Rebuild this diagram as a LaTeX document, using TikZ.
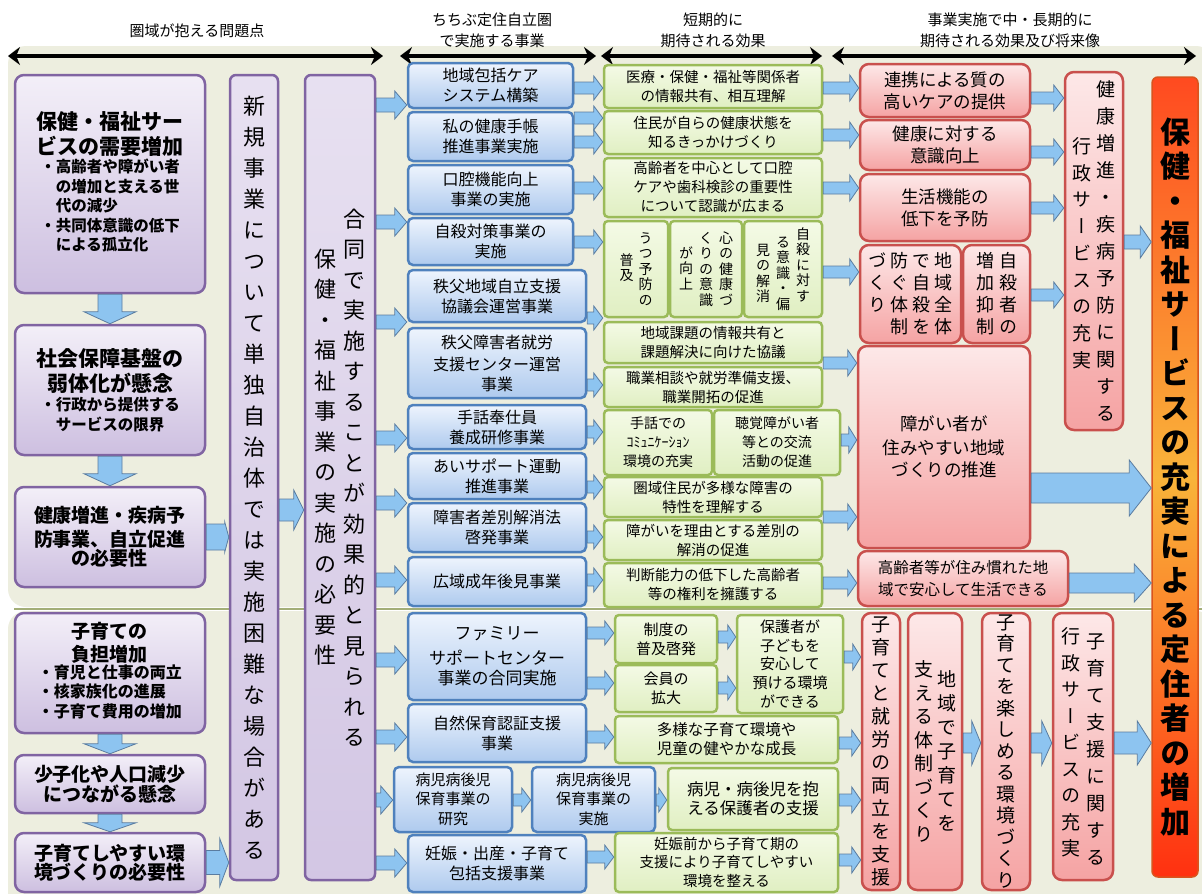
\documentclass[tikz,border=0pt]{standalone}
\usepackage{fontspec}
\setmainfont{Noto Sans CJK JP}
\newfontfamily\jpv[RawFeature=+vert]{Noto Sans CJK JP}
\usetikzlibrary{calc,arrows.meta}

\definecolor{panel}{HTML}{EDEEDF}
\definecolor{sepline}{HTML}{A3AE78}
\definecolor{purD}{HTML}{8064A2}
\definecolor{purT}{HTML}{F3EFF8}
\definecolor{purB}{HTML}{CDBFE0}
\definecolor{bluD}{HTML}{4F81BD}
\definecolor{bluT}{HTML}{EEF4FD}
\definecolor{bluB}{HTML}{AECAEE}
\definecolor{grnD}{HTML}{9BBB59}
\definecolor{grnT}{HTML}{F4FAE6}
\definecolor{grnB}{HTML}{E0EFC2}
\definecolor{redD}{HTML}{C9504D}
\definecolor{redT}{HTML}{FDE8E8}
\definecolor{redB}{HTML}{F5A3A3}
\definecolor{arrF}{HTML}{8DC4F0}
\definecolor{arrD}{HTML}{5A7CA0}
\definecolor{finT}{HTML}{FF4A20}
\definecolor{finM}{HTML}{F9B43A}
\definecolor{finB}{HTML}{FF3010}
\definecolor{finD}{HTML}{D9541E}

\def\vtloop#1{\ifx\relax#1\else\hbox to 1em{\hss#1\hss}\expandafter\vtloop\fi}
\newcommand\vcol[2]{\vtop{\jpv\baselineskip=#1\lineskiplimit=-100pt\lineskip=0pt\vtloop#2\relax}}
\newcommand\fs[2]{\fontsize{#1}{#2}\selectfont}

\newcommand\fatR[5]{\draw[fatarr] let \p1=(#1),\p2=(#2) in (\x1,\y1+#3) -- (\x2-#5,\y1+#3) -- (\x2-#5,\y1+#4) -- (\x2,\y1) -- (\x2-#5,\y1-#4) -- (\x2-#5,\y1-#3) -- (\x1,\y1-#3) -- cycle;}
\newcommand\fatD[5]{\draw[fatarr] let \p1=(#1),\p2=(#2) in (\x1-#3,\y1) -- (\x1-#3,\y2+#5) -- (\x1-#4,\y2+#5) -- (\x1,\y2) -- (\x1+#4,\y2+#5) -- (\x1+#3,\y2+#5) -- (\x1+#3,\y1) -- cycle;}
\newcommand\hA[6]{\coordinate (hy) at (0,#3); \fatR{#1.east |- hy}{#2.west |- hy}{#4}{#5}{#6}}
\newcommand\bx[7]{\node[#1,minimum width={(#5-#3)*1pt},minimum height={(#6-#4)*1pt},text width={(#5-#3-6)*1pt}] (#2) at ({(#3+#5)/2},{(#4+#6)/2}) {#7};}

\tikzset{
 bxbase/.style={align=center,inner sep=0pt,line width=2.5pt,text=black},
 pbox/.style={bxbase,rounded corners=9pt,draw=purD,top color=purT,bottom color=purB},
 tbox/.style={bxbase,rounded corners=6pt,draw=purD,top color=purT!70!purB,bottom color=purB!85!purT},
 bbox/.style={bxbase,rounded corners=5pt,draw=bluD,top color=bluT,bottom color=bluB,font=\fs{16}{20}},
 gbox/.style={bxbase,rounded corners=4pt,draw=grnD,top color=grnT,bottom color=grnB,font=\fs{14.5}{19}},
 rbox/.style={bxbase,rounded corners=9pt,draw=redD,top color=redT,bottom color=redB,font=\fs{17.5}{22}},
 fbox/.style={bxbase,rounded corners=6pt,draw=finD,line width=1.5pt,top color=finT,bottom color=finB,middle color=finM},
 fatarr/.style={fill=arrF,draw=arrD,line width=0.8pt},
 hdr/.style={line width=3.5pt,{Stealth[length=12pt,width=18pt]}-{Stealth[length=12pt,width=18pt]}},
 hdrtext/.style={align=center,font=\fs{15}{21}},
}

\begin{document}
\begin{tikzpicture}[x=1pt,y=-1pt]
\useasboundingbox (0,0) rectangle (1202,894);
\fill[white] (0,0) rectangle (1202,894);
\fill[panel,rounded corners=18pt] (8,46) rectangle (1214,607);
\fill[panel,rounded corners=18pt] (8,611) rectangle (1214,920);
\draw[sepline,line width=1.5pt] (14,609) -- (1202,609);

% headers
\node[hdrtext] (hd1) at (197,31) {圏域が抱える問題点};
\node[hdrtext] (hd2) at (492,30) {ちちぶ定住自立圏\\で実施する事業};
\node[hdrtext] (hd3) at (713,30) {短期的に\\期待される効果};
\node[hdrtext] (hd4) at (1010,30) {事業実施で中・長期的に\\期待される効果及び将来像};
\coordinate (a1l) at (8,56); \coordinate (a1r) at (383,56);
\coordinate (a2l) at (400,56); \coordinate (a2r) at (596,56);
\coordinate (a3l) at (601,56); \coordinate (a3r) at (822,56);
\coordinate (a4l) at (832,56); \coordinate (a4r) at (1196,56);
\draw[hdr] (a1l) -- (a1r);
\draw[hdr] (a2l) -- (a2r);
\draw[hdr] (a3l) -- (a3r);
\draw[hdr] (a4l) -- (a4r);

% left column
\bx{pbox}{p1}{15}{75}{205}{293}{{\fs{21}{25}\bfseries 保健・福祉サー\\ビスの需要増加\par}\vspace{2pt}{\fs{15.5}{19.5}\bfseries\begin{tabular}{@{}l@{}}・高齢者や障がい者\\\hphantom{・}の増加と支える世\\\hphantom{・}代の減少\\・共同体意識の低下\\\hphantom{・}による孤立化\end{tabular}\par}}
\bx{pbox}{p2}{15}{325}{205}{455}{{\fs{21}{25}\bfseries 社会保障基盤の\\弱体化が懸念\par}{\fs{15.5}{19.5}\bfseries ・行政から提供する\\サービスの限界\par}}
\bx{pbox}{p3}{15}{487}{205}{587}{\fs{19}{24}\bfseries 健康増進・疾病予\\防事業、自立促進\\の必要性}
\bx{pbox}{p4}{15}{613}{205}{733}{{\fs{19}{23}\bfseries 子育ての\\負担増加\par}{\fs{16}{19.5}\bfseries\begin{tabular}{@{}l@{}}・育児と仕事の両立\\・核家族化の進展\\・子育て費用の増加\end{tabular}\par}}
\bx{pbox}{p5}{15}{755}{205}{813}{\fs{19}{24}\bfseries 少子化や人口減少\\につながる懸念}
\bx{pbox}{p6}{15}{833}{205}{892}{\fs{19}{24}\bfseries 子育てしやすい環\\境づくりの必要性}

\bx{tbox}{t1}{230}{75}{278}{880}{\fs{22}{31}\vcol{31pt}{新規事業について単独自治体では実施困難な場合がある}}
\bx{tbox}{t2}{305}{75}{375}{880}{\fs{22}{30}\raisebox{-40pt}{\vcol{30.5pt}{保健・福祉事業の実施の必要性}}\hspace{7pt}\vcol{30.5pt}{合同で実施することが効果的と見られる}}

% blue column
\bx{bbox}{b1}{408}{63}{573}{108}{地域包括ケア\\システム構築}
\bx{bbox}{b2}{408}{112}{573}{161}{私の健康手帳\\推進事業実施}
\bx{bbox}{b3}{408}{165}{573}{214}{口腔機能向上\\事業の実施}
\bx{bbox}{b4}{408}{218}{573}{265}{自殺対策事業の\\実施}
\bx{bbox}{b5}{408}{270}{586}{322}{秩父地域自立支援\\協議会運営事業}
\bx{bbox}{b6}{408}{328}{586}{398}{\fs{16}{22}秩父障害者就労\\支援センター運営\\事業}
\bx{bbox}{b7}{408}{405}{586}{449}{手話奉仕員\\養成研修事業}
\bx{bbox}{b8}{408}{453}{586}{499}{あいサポート運動\\推進事業}
\bx{bbox}{b9}{408}{503}{586}{552}{障害者差別解消法\\啓発事業}
\bx{bbox}{b10}{408}{557}{586}{606}{広域成年後見事業}
\bx{bbox}{b11}{408}{613}{586}{700}{\fs{17}{25}ファミリー\\サポートセンター\\事業の合同実施}
\bx{bbox}{b12}{408}{704}{586}{762}{自然保育認証支援\\事業}
\bx{bbox}{b13}{394}{767}{512}{832}{\fs{15}{19}病児病後児\\保育事業の\\研究}
\bx{bbox}{b14}{532}{767}{655}{832}{\fs{15}{19}病児病後児\\保育事業の\\実施}
\bx{bbox}{b15}{408}{835}{586}{892}{妊娠・出産・子育て\\包括支援事業}

% green column
\bx{gbox}{g1}{604}{65}{822}{108}{医療・保健・福祉等関係者\\の情報共有、相互理解}
\bx{gbox}{g2}{604}{111}{822}{154}{住民が自らの健康状態を\\知るきっかけづくり}
\bx{gbox}{g3}{604}{158}{822}{217}{高齢者を中心として口腔\\ケアや歯科検診の重要性\\について認識が広まる}
\bx{gbox}{g4a}{604}{221}{668}{317}{\fs{14}{15.5}\raisebox{-22pt}{\vcol{15.5pt}{普及}}\hspace{5pt}\vcol{15.5pt}{うつ予防の}}
\bx{gbox}{g4b}{670}{221}{742}{317}{\fs{14}{15.5}\raisebox{-15pt}{\vcol{15.5pt}{が向上}}\hspace{6pt}\vcol{15.5pt}{くりの意識}\hspace{6pt}\vcol{15.5pt}{心の健康づ}}
\bx{gbox}{g4c}{744}{221}{822}{317}{\fs{14}{15.5}\raisebox{-16pt}{\vcol{15.5pt}{見の解消}}\hspace{6pt}\raisebox{-8pt}{\vcol{15.5pt}{る意識・偏}}\hspace{6pt}\vcol{15.5pt}{自殺に対す}}
\bx{gbox}{g5}{604}{322}{822}{363}{地域課題の情報共有と\\課題解決に向けた協議}
\bx{gbox}{g6}{604}{367}{822}{407}{職業相談や就労準備支援、\\職業開拓の促進}
\bx{gbox}{g7a}{604}{410}{712}{475}{\fs{14}{19}手話での\\ｺﾐｭﾆｹｰｼｮﾝ\\環境の充実}
\bx{gbox}{g7b}{714}{410}{840}{475}{\fs{14}{19}聴覚障がい者\\等との交流\\活動の促進}
\bx{gbox}{g8}{604}{477}{822}{517}{圏域住民が多様な障害の\\特性を理解する}
\bx{gbox}{g9}{604}{520}{822}{560}{障がいを理由とする差別の\\解消の促進}
\bx{gbox}{g10}{604}{563}{822}{607}{判断能力の低下した高齢者\\等の権利を擁護する}
\bx{gbox}{g11}{615}{615}{717}{663}{\fs{15}{20}制度の\\普及啓発}
\bx{gbox}{g12}{615}{665}{717}{712}{\fs{15}{20}会員の\\拡大}
\bx{gbox}{g13}{737}{615}{843}{713}{\fs{15}{18.5}保護者が\\子どもを\\安心して\\預ける環境\\ができる}
\bx{gbox}{g14}{615}{716}{838}{763}{\fs{15.5}{20}多様な子育て環境や\\児童の健やかな成長}
\bx{gbox}{g15}{668}{768}{838}{830}{\fs{16.5}{22}病児・病後児を抱\\える保護者の支援}
\bx{gbox}{g16}{615}{833}{838}{892}{\fs{14.5}{18.5}妊娠前から子育て期の\\支援により子育てしやすい\\環境を整える}

% red column
\bx{rbox}{r1}{860}{64}{1030}{117}{連携による質の\\高いケアの提供}
\bx{rbox}{r2}{860}{120}{1030}{170}{健康に対する\\意識向上}
\bx{rbox}{r3}{860}{174}{1030}{241}{生活機能の\\低下を予防}
\bx{rbox}{r4a}{860}{245}{961}{343}{\fs{18}{22}\vcol{22pt}{づくり}\hspace{4pt}\vcol{22pt}{防ぐ体制}\hspace{4pt}\vcol{22pt}{で自殺を}\hspace{4pt}\vcol{22pt}{地域全体}}
\bx{rbox}{r4b}{963}{245}{1030}{343}{\fs{18}{22}\vcol{22pt}{増加抑制}\hspace{5pt}\vcol{22pt}{自殺者の}}
\bx{rbox}{r5}{858}{346}{1030}{548}{\fs{17.5}{24}障がい者が\\住みやすい地域\\づくりの推進}
\bx{rbox}{r6}{858}{551}{1068}{606}{\fs{15.5}{20}高齢者等が住み慣れた地\\域で安心して生活できる}
\bx{rbox}{r7}{1065}{72}{1123}{430}{\fs{19}{27}\raisebox{-57pt}{\vcol{26.7pt}{行政サービスの充実}}\hspace{5pt}\vcol{27pt}{健康増進・疾病予防に関する}}
\bx{rbox}{rb1}{862}{613}{900}{890}{\fs{19}{23}\vcol{23pt}{子育てと就労の両立を支援}}
\bx{rbox}{rb2}{908}{613}{962}{890}{\fs{19}{24}\vcol{23.5pt}{支える体制づくり}\hspace{4pt}\raisebox{-10pt}{\vcol{24pt}{地域で子育てを}}}
\bx{rbox}{rb3}{982}{613}{1030}{890}{\fs{19}{21.5}\vcol{21.5pt}{子育てを楽しめる環境づくり}}
\bx{rbox}{rb4}{1053}{613}{1113}{880}{\fs{19}{27}\vcol{26.5pt}{行政サービスの充実}\hspace{6pt}\raisebox{-5pt}{\vcol{27pt}{子育て支援に関する}}}

\bx{fbox}{fin}{1152}{77}{1198}{877}{\fs{30}{34.5}\bfseries\vcol{34.5pt}{保健・福祉サービスの充実による定住者の増加}}

% arrows: left column
\fatD{p1.south}{p2.north}{12pt}{26pt}{12pt}
\fatD{p2.south}{p3.north}{12pt}{26pt}{12pt}
\fatD{p4.south}{p5.north}{12pt}{26pt}{10pt}
\fatD{p5.south}{p6.north}{12pt}{26pt}{9pt}
\fatR{p3.east}{t1.west |- p3.east}{13pt}{15pt}{4pt}
\fatR{p6.east}{t1.west |- p6.east}{12pt}{24pt}{9pt}
\coordinate (m1) at (0,510);
\fatR{t1.east |- m1}{t2.west |- m1}{11pt}{20pt}{10pt}

% tall box -> blue
\foreach \yy/\tn in {105/b1,222/b4,322/b5,438/b7,503/b9,580/b10,660/b11,737/b12,800/b13,863/b15}{\hA{t2}{\tn}{\yy}{7pt}{14pt}{12pt}}

% blue -> green
\hA{b1}{g1}{88}{6pt}{12pt}{9pt}
\hA{b2}{g2}{118}{6pt}{12pt}{9pt}
\hA{b2}{g2}{142}{6pt}{12pt}{9pt}
\hA{b3}{g3}{188}{6pt}{12pt}{9pt}
\hA{b4}{g4a}{242}{6pt}{12pt}{9pt}
\hA{b5}{g5}{318}{6pt}{12pt}{9pt}
\hA{b6}{g6}{385}{6pt}{12pt}{9pt}
\hA{b7}{g7a}{432}{6pt}{12pt}{9pt}
\hA{b8}{g8}{487}{6pt}{12pt}{9pt}
\hA{b9}{g9}{537}{6pt}{12pt}{9pt}
\hA{b10}{g10}{580}{6pt}{12pt}{9pt}
\hA{b11}{g11}{633}{6pt}{12pt}{9pt}
\hA{b11}{g12}{683}{6pt}{12pt}{9pt}
\hA{b12}{g14}{737}{6pt}{12pt}{9pt}
\hA{b13}{b14}{800}{6pt}{12pt}{9pt}
\hA{b14}{g15}{800}{6pt}{12pt}{8pt}
\hA{b15}{g16}{857}{6pt}{12pt}{9pt}
\hA{g11}{g13}{637}{6pt}{12pt}{8pt}
\hA{g12}{g13}{688}{6pt}{12pt}{8pt}

% green -> red
\hA{g1}{r1}{88}{6pt}{13pt}{9pt}
\hA{g2}{r2}{135}{6pt}{13pt}{9pt}
\hA{g3}{r3}{188}{6pt}{13pt}{9pt}
\hA{g4c}{r4a}{272}{6pt}{13pt}{9pt}
\hA{g5}{r5}{363}{6pt}{13pt}{9pt}
\hA{g7b}{r5}{440}{6pt}{13pt}{8pt}
\hA{g9}{r5}{517}{6pt}{13pt}{9pt}
\hA{g10}{r6}{583}{6pt}{13pt}{9pt}
\hA{g13}{rb1}{657}{6pt}{13pt}{8pt}
\hA{g14}{rb1}{743}{6pt}{13pt}{9pt}
\hA{g15}{rb1}{800}{6pt}{13pt}{9pt}
\hA{g16}{rb1}{860}{6pt}{13pt}{9pt}

% red -> outcomes
\hA{r1}{r7}{98}{6pt}{13pt}{10pt}
\hA{r2}{r7}{152}{6pt}{13pt}{10pt}
\hA{r3}{r7}{208}{6pt}{13pt}{10pt}
\hA{r4b}{r7}{295}{6pt}{13pt}{10pt}
\hA{r7}{fin}{242}{7pt}{16pt}{11pt}
\hA{r5}{fin}{488}{15pt}{28pt}{22pt}
\hA{r6}{fin}{583}{10pt}{19pt}{17pt}
\hA{rb2}{rb3}{743}{10pt}{22pt}{9pt}
\hA{rb3}{rb4}{743}{10pt}{22pt}{10pt}
\hA{rb4}{fin}{743}{11pt}{22pt}{14pt}
\end{tikzpicture}
\end{document}
